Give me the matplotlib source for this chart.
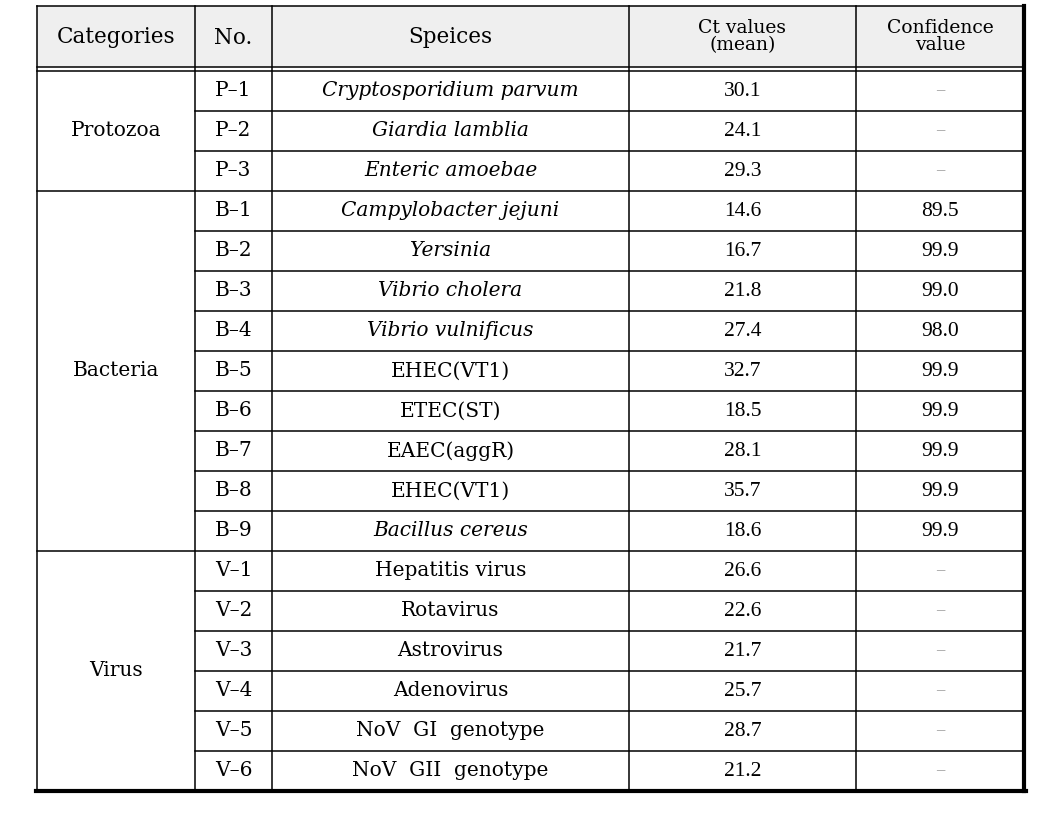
import matplotlib
matplotlib.use("Agg")
import matplotlib.pyplot as plt

categories = ["Protozoa", "Bacteria", "Virus"]
category_counts = [3, 9, 6]
numbers = ["P-1", "P-2", "P-3",
           "B-1", "B-2", "B-3", "B-4", "B-5", "B-6", "B-7", "B-8", "B-9",
           "V-1", "V-2", "V-3", "V-4", "V-5", "V-6"]
species = ["Cryptosporidium parvum", "Giardia lamblia", "Enteric amoebae",
           "Campylobacter jejuni", "Yersinia", "Vibrio cholera", "Vibrio vulnificus",
           "EHEC(VT1)", "ETEC(ST)", "EAEC(aggR)", "EHEC(VT1)", "Bacillus cereus",
           "Hepatitis virus", "Rotavirus", "Astrovirus", "Adenovirus",
           "NoV  GI  genotype", "NoV  GII  genotype"]
species_italic = [True, True, True, True, True, True, True,
                  False, False, False, False, True,
                  False, False, False, False, False, False]
ct_values = ["30.1", "24.1", "29.3", "14.6", "16.7", "21.8", "27.4", "32.7", "18.5",
             "28.1", "35.7", "18.6", "26.6", "22.6", "21.7", "25.7", "28.7", "21.2"]
confidence = ["-", "-", "-", "89.5", "99.9", "99.0", "98.0", "99.9", "99.9",
              "99.9", "99.9", "99.9", "-", "-", "-", "-", "-", "-"]
headers = ["Categories", "No.", "Speices", "Ct values\n(mean)", "Confidence\nvalue"]

W, H = 1060, 819
fig = plt.figure(figsize=(W / 100, H / 100), dpi=100)
ax = fig.add_axes([0, 0, 1, 1])
ax.set_xlim(0, W)
ax.set_ylim(H, 0)
ax.axis("off")

cols = [37, 195, 272, 629, 856, 1024]
top, hdr_bot1, hdr_bot2, bottom = 6, 67, 71, 791
n = len(numbers)
rh = (bottom - hdr_bot2) / n
serif = "DejaVu Serif"
tnr = "Liberation Serif"

# header background
ax.fill_between([cols[0], cols[-1]], top, hdr_bot1, color="#efefef", lw=0, zorder=0)

lw = 1.1
ax.plot([cols[0], cols[-1]], [top, top], color="black", lw=lw)
ax.plot([cols[0], cols[-1]], [hdr_bot1, hdr_bot1], color="black", lw=lw)
ax.plot([cols[0], cols[-1]], [hdr_bot2, hdr_bot2], color="black", lw=lw)
ax.plot([cols[0] - 1, cols[-1] + 1.5], [bottom, bottom], color="black", lw=3)
for i, x in enumerate(cols):
    if i == len(cols) - 1:
        ax.plot([x, x], [top, bottom], color="black", lw=3)
    else:
        ax.plot([x, x], [top, bottom], color="black", lw=lw)

start = 0
cat_bounds = []
for c in category_counts:
    start += c
    cat_bounds.append(start)
for r in range(1, n):
    y = hdr_bot2 + r * rh
    x0 = cols[0] if r in cat_bounds else cols[1]
    ax.plot([x0, cols[-1]], [y, y], color="black", lw=lw)

hx = [(cols[i] + cols[i + 1]) / 2 for i in range(5)]
hy = (top + hdr_bot1) / 2
for i, h in enumerate(headers):
    if "\n" in h:
        ax.text(hx[i], hy, h, ha="center", va="center", fontsize=13.5,
                family=serif, linespacing=0.92)
    else:
        ax.text(hx[i], hy + 1, h, ha="center", va="center", fontsize=15.5,
                family=serif)

s = 0
for cat, c in zip(categories, category_counts):
    yc = hdr_bot2 + (s + c / 2) * rh
    ax.text(hx[0], yc, cat, ha="center", va="center", fontsize=14.5, family=serif)
    s += c

for r in range(n):
    yc = hdr_bot2 + (r + 0.5) * rh
    ax.text(hx[1], yc, numbers[r].replace("-", "\u2013"), ha="center", va="center",
            fontsize=14.5, family=serif)
    ax.text(hx[2], yc, species[r], ha="center", va="center", fontsize=14.5,
            family=serif, style="italic" if species_italic[r] else "normal")
    ax.text(hx[3], yc, ct_values[r], ha="center", va="center", fontsize=15.5, family=tnr)
    if confidence[r] == "-":
        ax.text(hx[4], yc - 1, "\u2013", ha="center", va="center", fontsize=12,
                family=tnr, color="#999999")
    else:
        ax.text(hx[4], yc, confidence[r], ha="center", va="center", fontsize=15.5, family=tnr)

fig.savefig("out.png", dpi=100)
